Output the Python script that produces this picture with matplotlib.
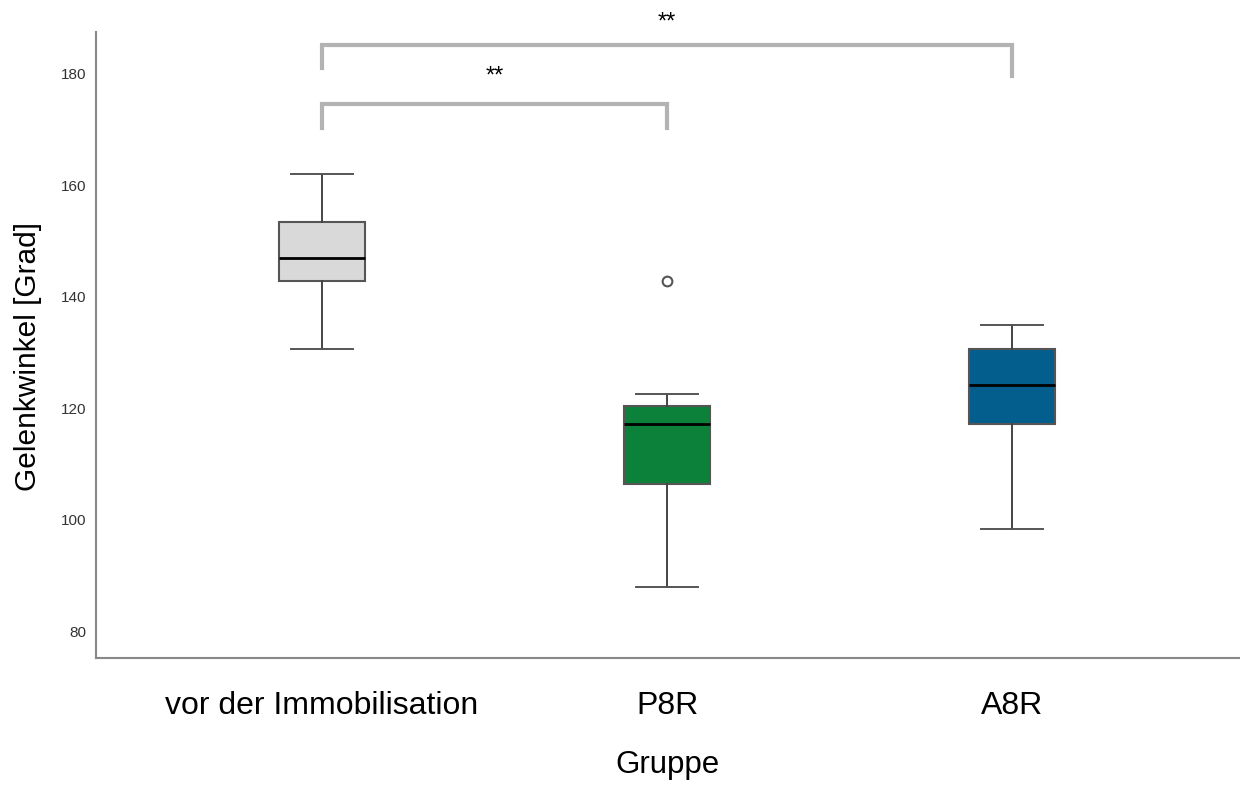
import matplotlib.pyplot as plt

plt.rcParams["font.family"] = ["Liberation Sans", "DejaVu Sans"]

# Box statistics (Grad)
groups = ["vor der Immobilisation", "P8R", "A8R"]
whislo = [130.6, 87.9, 98.3]
q1 = [142.8, 106.4, 117.2]
med = [147.0, 117.2, 124.2]
q3 = [153.4, 120.4, 130.6]
whishi = [162.0, 122.5, 134.9]
fliers = [[], [142.9], []]
colors = ["#d9d9d9", "#0b8139", "#035e8e"]

# significance brackets: (group a, group b, bar height, leg end a, leg end b, label height, label)
brackets = [(1, 2, 174.6, 170.3, 170.3, 179.6, "**"),
            (1, 3, 185.2, 181.1, 179.6, 189.3, "**")]

fig = plt.figure(figsize=(12.4, 7.85), dpi=100)
ax = fig.add_axes([0.0774, 0.1618, 0.9226, 0.7972])

stats = []
for i, g in enumerate(groups):
    stats.append(dict(label=g, whislo=whislo[i], q1=q1[i], med=med[i],
                      q3=q3[i], whishi=whishi[i], fliers=fliers[i]))

bp = ax.bxp(stats, positions=[1, 2, 3], widths=0.25, patch_artist=True,
            boxprops=dict(edgecolor="#555555", linewidth=1.5),
            medianprops=dict(color="black", linewidth=2),
            whiskerprops=dict(color="#444444", linewidth=1.4),
            capprops=dict(color="#555555", linewidth=1.4),
            flierprops=dict(marker="o", markerfacecolor="white",
                            markeredgecolor="#555555", markersize=7,
                            markeredgewidth=1.5),
            capwidths=0.18)
for patch, c in zip(bp["boxes"], colors):
    patch.set_facecolor(c)

for a, b, h, la, lb, ty, txt in brackets:
    ax.plot([a, a, b, b], [la, h, h, lb], color="#b3b3b3", linewidth=3,
            clip_on=False, solid_joinstyle="miter")
    ax.text((a + b) / 2, ty, txt, ha="center", va="center",
            fontsize=17, clip_on=False)

ax.set_xlim(0.345, 3.66)
ax.set_ylim(75.2, 187.5)
ax.set_yticks([80, 100, 120, 140, 160, 180])
ax.tick_params(axis="y", length=0, labelsize=11, labelcolor="#333333", pad=7)
ax.tick_params(axis="x", length=0, labelsize=23, pad=24)
ax.set_xticks([1, 2, 3])
ax.set_xticklabels(groups)
ax.set_xlabel("Gruppe", fontsize=22.5, labelpad=21)
ax.set_ylabel("Gelenkwinkel [Grad]", fontsize=21.5)
ax.yaxis.set_label_coords(-0.047, 0.481)

for side in ["top", "right"]:
    ax.spines[side].set_visible(False)
for side in ["left", "bottom"]:
    ax.spines[side].set_color("#888888")
    ax.spines[side].set_linewidth(1.5)

fig.savefig("out.png", dpi=100)
